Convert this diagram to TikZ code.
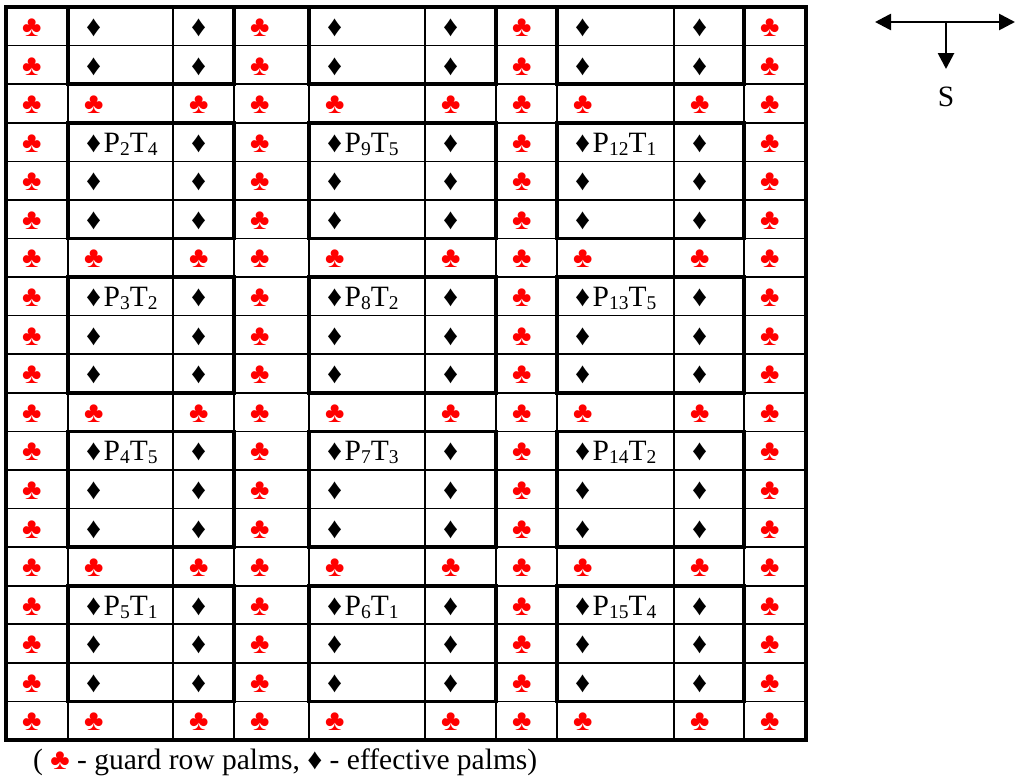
\documentclass[tikz,border=0pt]{standalone}
\usepackage{fontspec}
\setmainfont{Liberation Serif}
\usetikzlibrary{arrows.meta}
\definecolor{clubred}{RGB}{255,0,0}
\newcommand\clubsym{\textcolor{clubred}{♣}}
\newcommand\diasym{♦}
\newcommand\lowsub[1]{\raisebox{-3pt}{\fontsize{19.5}{19.5}\selectfont #1}}
\tikzset{
  cellsym/.style={anchor=base west, inner sep=0pt, font=\fontsize{29.5}{30}\selectfont},
  labeltext/.style={anchor=base west, inner sep=0pt, font=\fontsize{29.5}{30}\selectfont},
  thinline/.style={line width=1.6pt, black},
  thickline/.style={line width=3.6pt, black},
  compass/.style={line width=2.7pt, black, -{Triangle[length=16pt,width=16pt]}},
  compassboth/.style={line width=2.7pt, black, {Triangle[length=16pt,width=16pt]}-{Triangle[length=16pt,width=16pt]}},
}
\begin{document}
\begin{tikzpicture}[x=1pt,y=-1pt]
\useasboundingbox (0,0) rectangle (1016,782);
\def\rh{38.58}
\def\ytop{7}
% cells
\foreach \r in {1,...,19}{
  \foreach \xl [count=\c] in {6,68,173,234,309,425,496,557,674,744}{
    \pgfmathtruncatemacro\g{(mod(\r,4)==3) || (mod(\c-1,3)==0)}
    \pgfmathsetmacro\yb{\ytop+(\r-1)*\rh+29.5}
    \ifnum\g=1
      \node[cellsym] (cell-\r-\c) at (\xl+16,\yb) {\clubsym};
    \else
      \node[cellsym] (cell-\r-\c) at (\xl+18,\yb) {\diasym};
    \fi
  }
}
% plot labels
\node[labeltext] (lbl-4-2) at (cell-4-2.base east) {\kern2pt P\lowsub{2}T\lowsub{4}};
\node[labeltext] (lbl-4-5) at (cell-4-5.base east) {\kern2pt P\lowsub{9}T\lowsub{5}};
\node[labeltext] (lbl-4-8) at (cell-4-8.base east) {\kern2pt P\lowsub{12}T\lowsub{1}};
\node[labeltext] (lbl-8-2) at (cell-8-2.base east) {\kern2pt P\lowsub{3}T\lowsub{2}};
\node[labeltext] (lbl-8-5) at (cell-8-5.base east) {\kern2pt P\lowsub{8}T\lowsub{2}};
\node[labeltext] (lbl-8-8) at (cell-8-8.base east) {\kern2pt P\lowsub{13}T\lowsub{5}};
\node[labeltext] (lbl-12-2) at (cell-12-2.base east) {\kern2pt P\lowsub{4}T\lowsub{5}};
\node[labeltext] (lbl-12-5) at (cell-12-5.base east) {\kern2pt P\lowsub{7}T\lowsub{3}};
\node[labeltext] (lbl-12-8) at (cell-12-8.base east) {\kern2pt P\lowsub{14}T\lowsub{2}};
\node[labeltext] (lbl-16-2) at (cell-16-2.base east) {\kern2pt P\lowsub{5}T\lowsub{1}};
\node[labeltext] (lbl-16-5) at (cell-16-5.base east) {\kern2pt P\lowsub{6}T\lowsub{1}};
\node[labeltext] (lbl-16-8) at (cell-16-8.base east) {\kern2pt P\lowsub{15}T\lowsub{4}};
% thin grid
\foreach \r in {1,...,18}{
  \draw[thinline] (6,\ytop+\r*\rh) -- (806,\ytop+\r*\rh);
}
\foreach \xl in {68,173,234,309,425,496,557,674,744}{
  \draw[thinline] (\xl,7) -- (\xl,740);
}
% thick plot blocks
\foreach \xa/\xb in {68/234,309/496,557/744}{
  \draw[thickline] (\xa,\ytop) rectangle (\xb,\ytop+2*\rh);
  \foreach \k in {3,7,11,15}{
    \draw[thickline] (\xa,\ytop+\k*\rh) rectangle (\xb,\ytop+\k*\rh+3*\rh);
  }
}
% outer frame
\draw[thickline] (6,7) rectangle (806,740);
% caption
\node[labeltext] (caption) at (33,769) {( \clubsym{} - guard row palms, \diasym{} - effective palms)};
% compass
\coordinate (cL) at (875,22);
\coordinate (cR) at (1015,22);
\coordinate (cM) at (946,22);
\coordinate (cD) at (946,69);
\draw[compassboth] (cL) -- (cR);
\draw[compass] (cM) -- (cD);
\node[labeltext, anchor=base] (south) at (946,106) {S};
\end{tikzpicture}
\end{document}
